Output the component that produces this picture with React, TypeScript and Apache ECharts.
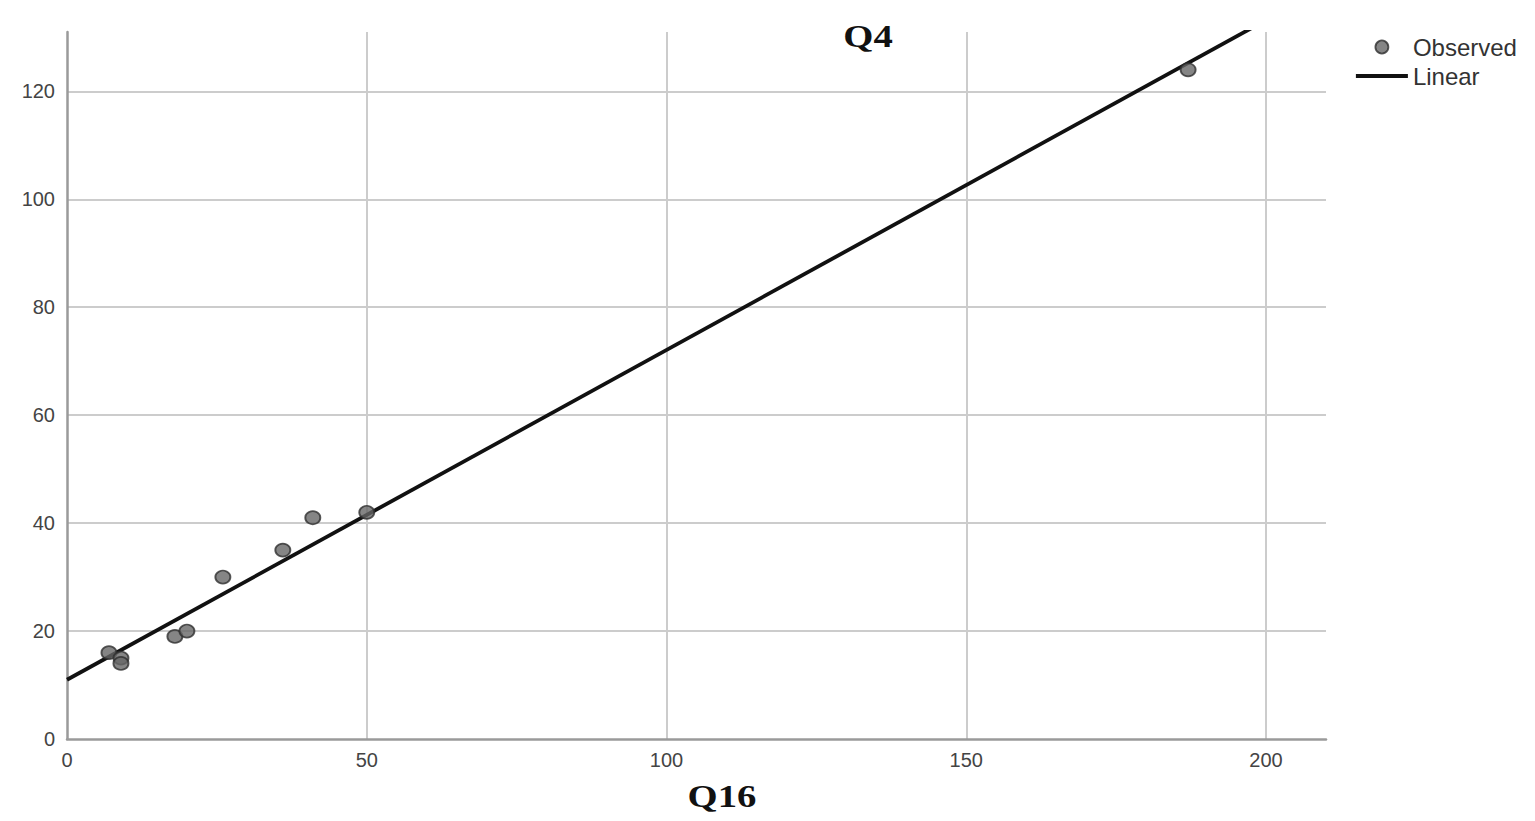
import React, { useEffect, useRef } from "react";
import * as echarts from "echarts";

// Observed values (Q16 on x, Q4 on y)
const q16Values: number[] = [7, 9, 9, 18, 20, 26, 36, 41, 50, 187];
const q4Values: number[] = [16, 15, 14, 19, 20, 30, 35, 41, 42, 124];

const xAxisMin = 0;
const xAxisMax = 210;
const xAxisInterval = 50;
const yAxisMin = 0;
const yAxisMax = 131;
const yAxisInterval = 20;

const xTitle = "Q16";
const yTitle = "Q4";
const legendNames = ["Observed", "Linear"];

function linearFit(xs: number[], ys: number[]) {
  const n = xs.length;
  const mx = xs.reduce((a, b) => a + b, 0) / n;
  const my = ys.reduce((a, b) => a + b, 0) / n;
  let sxy = 0;
  let sxx = 0;
  for (let i = 0; i < n; i++) {
    sxy += (xs[i] - mx) * (ys[i] - my);
    sxx += (xs[i] - mx) * (xs[i] - mx);
  }
  const slope = sxy / sxx;
  return { slope, intercept: my - slope * mx };
}

export default function App() {
  const ref = useRef<HTMLDivElement>(null);

  useEffect(() => {
    if (!ref.current) return;
    const chart = echarts.init(ref.current, undefined, { renderer: "svg" });
    const fit = linearFit(q16Values, q4Values);
    const observed = q16Values.map((x, i) => [x, q4Values[i]]);
    const fitLine = [
      [xAxisMin, fit.intercept + fit.slope * xAxisMin],
      [xAxisMax, fit.intercept + fit.slope * xAxisMax],
    ];

    const markerStyle = { color: "#666666", borderColor: "#2e2e2e", borderWidth: 1.8 };

    chart.setOption({
      animation: false,
      backgroundColor: "#ffffff",
      grid: { left: 67, right: 209, top: 32, bottom: 82 },
      xAxis: {
        type: "value",
        min: xAxisMin,
        max: xAxisMax,
        interval: xAxisInterval,
        axisLine: { show: true, lineStyle: { color: "#9a9a9a", width: 2.5 } },
        axisTick: { show: false },
        axisLabel: {
          color: "#444",
          fontSize: 20,
          fontFamily: "Liberation Sans, Arial, sans-serif",
          margin: 11,
          showMaxLabel: false,
        },
        splitLine: {
          show: true,
          showMinLine: false,
          showMaxLine: false,
          lineStyle: { color: "#cccccc", width: 2 },
        },
      },
      yAxis: {
        type: "value",
        min: yAxisMin,
        max: yAxisMax,
        interval: yAxisInterval,
        axisLine: { show: true, lineStyle: { color: "#9a9a9a", width: 2.5 } },
        axisTick: { show: false },
        axisLabel: {
          color: "#444",
          fontSize: 20,
          fontFamily: "Liberation Sans, Arial, sans-serif",
          margin: 12,
          showMaxLabel: false,
        },
        splitLine: {
          show: true,
          showMinLine: false,
          showMaxLine: false,
          lineStyle: { color: "#cccccc", width: 2 },
        },
      },
      legend: {
        orient: "vertical",
        left: 1349,
        top: 30,
        itemWidth: 52,
        itemHeight: 13,
        itemGap: 5,
        textStyle: {
          color: "#333",
          fontSize: 24,
          fontFamily: "Liberation Sans, Arial, sans-serif",
        },
        data: [
          { name: legendNames[0], icon: "circle", itemStyle: markerStyle },
          {
            name: legendNames[1],
            itemStyle: { opacity: 0 },
            lineStyle: { color: "#111", width: 3.8 },
          },
        ],
      },
      graphic: [
        {
          type: "text",
          x: 868,
          y: 37,
          scaleX: 1.25,
          style: {
            text: yTitle,
            font: 'bold 31px "Liberation Serif", "Times New Roman", serif',
            fill: "#111",
            textAlign: "center",
            textVerticalAlign: "middle",
          },
        },
        {
          type: "text",
          x: 722,
          y: 797,
          scaleX: 1.25,
          style: {
            text: xTitle,
            font: 'bold 31px "Liberation Serif", "Times New Roman", serif',
            fill: "#111",
            textAlign: "center",
            textVerticalAlign: "middle",
          },
        },
      ],
      series: [
        {
          name: legendNames[1],
          type: "line",
          data: fitLine,
          showSymbol: false,
          symbol: "none",
          clip: true,
          lineStyle: { color: "#111", width: 3.8 },
          itemStyle: { color: "#111" },
          z: 2,
        },
        {
          name: legendNames[0],
          type: "scatter",
          data: observed,
          symbol: "circle",
          symbolSize: [15, 13],
          itemStyle: markerStyle,
          z: 3,
        },
      ],
    });

    return () => chart.dispose();
  }, []);

  return (
    <div
      ref={ref}
      style={{ position: "fixed", left: 0, top: 0, width: 1535, height: 821 }}
    />
  );
}
